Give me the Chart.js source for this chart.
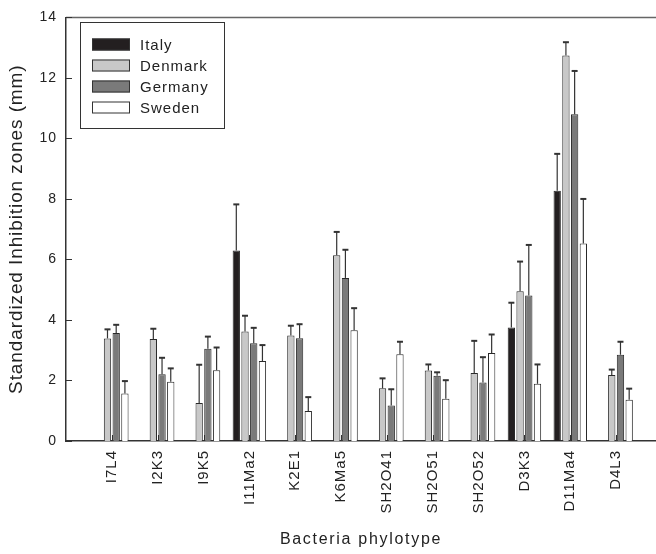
<!DOCTYPE html>
<html>
<head>
<meta charset="utf-8">
<script src="https://cdn.jsdelivr.net/npm/chart.js"></script>
<style>
  html, body { margin: 0; padding: 0; background: #fff; }
  #wrap { width: 656px; height: 554px; }
</style>
</head>
<body>
<div id="wrap"><canvas id="myChart" width="656" height="554"></canvas></div>
<script>
// phylotypes on the x axis
const phylotypes = ['I7L4', 'I2K3', 'I9K5', 'I11Ma2', 'K2E1', 'K6Ma5', 'SH2O41', 'SH2O51', 'SH2O52', 'D3K3', 'D11Ma4', 'D4L3'];

// mean inhibition zones (mm) per country
const italy   = [null, null, null, 6.30, null, null, null, null, null, 3.75, 8.27, null];
const denmark = [3.39, 3.37, 1.26, 3.62, 3.49, 6.14, 1.74, 2.33, 2.25, 4.95, 12.74, 2.18];
const germany = [3.57, 2.21, 3.05, 3.23, 3.40, 5.39, 1.17, 2.16, 1.93, 4.81, 10.80, 2.85];
const sweden  = [1.57, 1.96, 2.34, 2.64, 0.99, 3.66, 2.87, 1.40, 2.91, 1.89, 6.53, 1.36];

// upper error bars (SD)
const italyErr   = [0, 0, 0, 1.52, 0, 0, 0, 0, 0, 0.82, 1.22, 0];
const denmarkErr = [0.30, 0.34, 1.26, 0.52, 0.32, 0.77, 0.33, 0.20, 1.06, 0.98, 0.44, 0.18];
const germanyErr = [0.27, 0.54, 0.40, 0.51, 0.46, 0.93, 0.54, 0.11, 0.84, 1.67, 1.43, 0.43];
const swedenErr  = [0.41, 0.44, 0.75, 0.53, 0.46, 0.73, 0.41, 0.61, 0.61, 0.64, 1.47, 0.37];

const yTicks = [0, 2, 4, 6, 8, 10, 12, 14];

const FONT = "'Liberation Sans', Arial, sans-serif";

// bars sit at x = 1..12 on a linear axis so the empty slot at the left is kept
const toPoints = vals => vals.map((v, i) => ({ x: i + 1, y: v }));

const series = [
  { label: 'Italy',   data: italy,   err: italyErr,   color: '#231f20' },
  { label: 'Denmark', data: denmark, err: denmarkErr, color: '#c8c8c8' },
  { label: 'Germany', data: germany, err: germanyErr, color: '#7a7a7a' },
  { label: 'Sweden',  data: sweden,  err: swedenErr,  color: '#ffffff' }
];

// error bars drawn from the bar elements
const errorBars = {
  id: 'errorBars',
  afterDatasetsDraw(chart) {
    const ctx = chart.ctx;
    const y = chart.scales.y;
    ctx.save();
    ctx.strokeStyle = '#333';
    series.forEach((s, i) => {
      const meta = chart.getDatasetMeta(i);
      meta.data.forEach((bar, j) => {
        if (s.data[j] == null) return;
        const top = y.getPixelForValue(s.data[j] + s.err[j]);
        ctx.lineWidth = 1.2;
        ctx.beginPath();
        ctx.moveTo(bar.x, bar.y);
        ctx.lineTo(bar.x, top);
        ctx.stroke();
        ctx.lineWidth = 2;
        ctx.beginPath();
        ctx.moveTo(bar.x - 3, top);
        ctx.lineTo(bar.x + 3, top);
        ctx.stroke();
      });
    });
    ctx.restore();
  }
};

// frame bits, inner ticks, titles and legend
const decor = {
  id: 'decor',
  beforeDraw(chart) {
    chart.ctx.letterSpacing = '1px';
  },
  beforeDatasetsDraw(chart) {
    const ctx = chart.ctx;
    const { left, right, top, bottom } = chart.chartArea;
    const x = chart.scales.x, y = chart.scales.y;
    ctx.save();
    ctx.strokeStyle = '#666';
    ctx.lineWidth = 1.5;
    ctx.beginPath();
    ctx.moveTo(left, top);
    ctx.lineTo(right, top);
    ctx.stroke();
    ctx.strokeStyle = '#333';
    ctx.lineWidth = 1;
    yTicks.forEach(v => {
      const py = Math.round(y.getPixelForValue(v)) + 0.5;
      ctx.beginPath();
      ctx.moveTo(left, py);
      ctx.lineTo(left + 6, py);
      ctx.stroke();
    });
    phylotypes.forEach((p, i) => {
      const px = Math.round(x.getPixelForValue(i + 1)) + 0.5;
      ctx.beginPath();
      ctx.moveTo(px, bottom);
      ctx.lineTo(px, bottom - 6);
      ctx.stroke();
    });
    ctx.restore();
  },
  afterDraw(chart) {
    const ctx = chart.ctx;
    const { left, right, top, bottom } = chart.chartArea;
    ctx.save();
    ctx.fillStyle = '#222';
    ctx.textAlign = 'center';
    ctx.textBaseline = 'middle';

    // x title
    ctx.letterSpacing = '1.7px';
    ctx.font = '16px ' + FONT;
    ctx.fillText('Bacteria phylotype', (left + right) / 2, 540);

    // y title
    ctx.letterSpacing = '0.9px';
    ctx.font = '19px ' + FONT;
    ctx.translate(17, (top + bottom) / 2);
    ctx.rotate(-Math.PI / 2);
    ctx.fillText('Standardized Inhibition zones (mm)', 0, 0);
    ctx.restore();

    // legend box
    ctx.save();
    ctx.strokeStyle = '#333';
    ctx.lineWidth = 1;
    ctx.strokeRect(80.5, 22.5, 144, 106);
    ctx.font = '15px ' + FONT;
    ctx.letterSpacing = '1px';
    ctx.textAlign = 'left';
    ctx.textBaseline = 'middle';
    series.forEach((s, i) => {
      const cy = 44.5 + i * 21;
      ctx.fillStyle = s.color;
      ctx.fillRect(92, cy - 6, 38, 12);
      ctx.strokeStyle = '#333';
      ctx.strokeRect(92.5, cy - 5.5, 37, 11);
      ctx.fillStyle = '#222';
      ctx.fillText(s.label, 140, cy + 1);
    });
    ctx.restore();
  }
};

const ctx = document.getElementById('myChart').getContext('2d');

const myChart = new Chart(ctx, {
  type: 'bar',
  data: {
    datasets: series.map(s => ({
      label: s.label,
      data: toPoints(s.data),
      backgroundColor: s.color,
      borderColor: '#2a2a2a',
      borderWidth: 1,
      borderSkipped: 'bottom',
      categoryPercentage: 0.76,
      barPercentage: 0.84
    }))
  },
  options: {
    responsive: false,
    devicePixelRatio: 1,
    animation: false,
    layout: { padding: { top: 13, left: 0, right: 0, bottom: 0 } },
    plugins: {
      legend: { display: false },
      tooltip: { enabled: false }
    },
    scales: {
      x: {
        type: 'linear',
        offset: false,
        min: 0,
        max: 12.87,
        grid: { display: false, drawTicks: false },
        border: { display: true, color: '#333', width: 1.5 },
        ticks: {
          stepSize: 1,
          includeBounds: false,
          autoSkip: false,
          minRotation: 90,
          maxRotation: 90,
          padding: 9,
          color: '#222',
          font: { size: 15, family: FONT },
          callback: v => phylotypes[v - 1] || ''
        },
        afterFit: s => { s.height = 113; }
      },
      y: {
        min: 0,
        max: 14,
        grid: { display: false, drawTicks: false },
        border: { display: true, color: '#333', width: 1.5 },
        ticks: {
          stepSize: 2,
          padding: 9,
          color: '#222',
          font: { size: 14, family: FONT }
        },
        afterFit: s => { s.width = 66; }
      }
    }
  },
  plugins: [errorBars, decor]
});
</script>
</body>
</html>
